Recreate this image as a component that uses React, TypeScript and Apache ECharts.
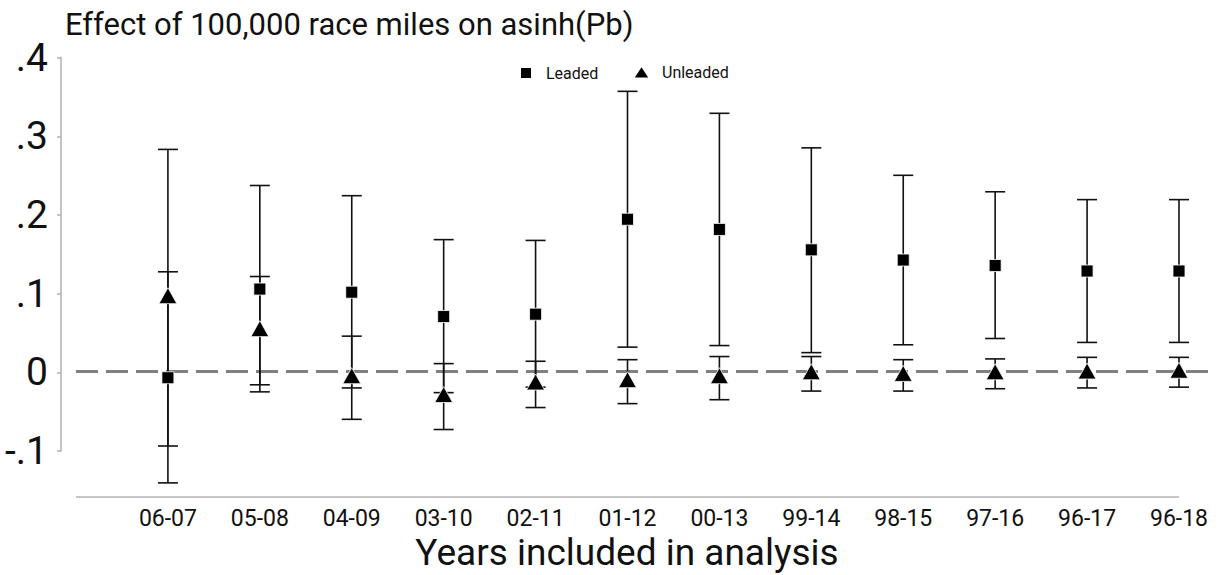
import React, { useEffect, useRef } from 'react';
import * as echarts from 'echarts';

const categories = ['06-07', '05-08', '04-09', '03-10', '02-11', '01-12', '00-13', '99-14', '98-15', '97-16', '96-17', '96-18'];

const leadedEst = [-0.008, 0.105, 0.101, 0.070, 0.073, 0.194, 0.181, 0.155, 0.142, 0.135, 0.128, 0.128];
const leadedLo = [-0.142, -0.026, -0.021, -0.027, -0.020, 0.031, 0.033, 0.024, 0.034, 0.042, 0.037, 0.037];
const leadedHi = [0.127, 0.237, 0.224, 0.168, 0.167, 0.357, 0.329, 0.285, 0.250, 0.229, 0.219, 0.219];

const unleadedEst = [0.094, 0.052, -0.008, -0.032, -0.016, -0.013, -0.008, -0.003, -0.005, -0.003, -0.002, -0.001];
const unleadedLo = [-0.095, -0.017, -0.061, -0.074, -0.046, -0.041, -0.036, -0.025, -0.025, -0.022, -0.021, -0.020];
const unleadedHi = [0.283, 0.121, 0.045, 0.010, 0.013, 0.015, 0.019, 0.019, 0.015, 0.016, 0.018, 0.018];

const yTicks = [-0.1, 0, 0.1, 0.2, 0.3, 0.4];

const FONT = 'Roboto';

export default function App() {
  const ref = useRef<HTMLDivElement>(null);

  useEffect(() => {
    const chart = echarts.init(ref.current!, null, { renderer: 'svg' });

    const errData = (lo: number[], hi: number[]) => categories.map((_, i) => [i + 1, lo[i], hi[i]]);
    const ptData = (est: number[]) => categories.map((_, i) => [i + 1, est[i]]);

    const renderErr = (params: any, api: any) => {
      const x = api.value(0);
      const lo = api.coord([x, api.value(1)]);
      const hi = api.coord([x, api.value(2)]);
      const w = 10;
      const style = { stroke: '#111', lineWidth: 1.6 };
      return {
        type: 'group',
        children: [
          { type: 'line', shape: { x1: lo[0], y1: lo[1], x2: hi[0], y2: hi[1] }, style },
          { type: 'line', shape: { x1: lo[0] - w, y1: lo[1], x2: lo[0] + w, y2: lo[1] }, style },
          { type: 'line', shape: { x1: hi[0] - w, y1: hi[1], x2: hi[0] + w, y2: hi[1] }, style },
        ],
      };
    };

    const option: any = {
      animation: false,
      backgroundColor: '#fff',
      textStyle: { fontFamily: FONT },
      title: {
        text: 'Effect of 100,000 race miles on asinh(Pb)',
        left: 60,
        top: 4,
        textStyle: { fontFamily: FONT, fontSize: 31, fontWeight: 'normal', color: '#111' },
      },
      legend: [
        {
          data: [{ name: 'Leaded', icon: 'rect' }],
          left: 514,
          top: 60,
          itemWidth: 12,
          itemHeight: 12,
          textStyle: { fontFamily: FONT, fontSize: 16, color: '#111', padding: [0, 0, 0, 9] },
        },
        {
          data: [{ name: 'Unleaded', icon: 'triangle' }],
          left: 627,
          top: 59,
          itemWidth: 17,
          itemHeight: 13,
          textStyle: { fontFamily: FONT, fontSize: 16, color: '#111', padding: [0, 0, 0, 7] },
        },
      ],
      grid: [
        { left: 76, top: 57.6, width: 1137, height: 439.4 },
        { left: 61, top: 57.6, width: 1, height: 393.4 },
      ],
      xAxis: [
        {
          gridIndex: 0,
          type: 'value',
          min: 0,
          max: 12.37,
          axisLine: { show: false },
          axisTick: { show: false },
          splitLine: { show: false },
          axisLabel: {
            customValues: categories.map((_, i) => i + 1),
            formatter: (v: number) => categories[Math.round(v) - 1] ?? '',
            fontFamily: FONT,
            fontSize: 23,
            color: '#111',
            margin: 10,
          },
        },
        { gridIndex: 1, type: 'value', show: false, min: 0, max: 1 },
      ],
      yAxis: [
        { gridIndex: 0, type: 'value', min: -0.16, max: 0.4, show: false },
        {
          gridIndex: 1,
          type: 'value',
          min: -0.1,
          max: 0.4,
          interval: 0.1,
          axisLine: { show: true, lineStyle: { color: '#b0b0b0', width: 1.5 } },
          axisTick: { show: true, length: 4, lineStyle: { color: '#b0b0b0', width: 1.5 } },
          splitLine: { show: false },
          axisLabel: {
            customValues: yTicks,
            fontFamily: FONT,
            fontSize: 39,
            color: '#111',
            margin: 13,
            formatter: (v: number) => {
              const r = Math.round(v * 10) / 10;
              if (r === 0) return '0';
              return String(r).replace('0.', '.');
            },
          },
        },
      ],
      graphic: [
        {
          type: 'text',
          x: 627,
          y: 552,
          style: {
            text: 'Years included in analysis',
            fontFamily: FONT,
            fontSize: 37,
            fill: '#111',
            align: 'center',
            verticalAlign: 'middle',
          },
        },
      ],
      series: [
        {
          type: 'line',
          name: 'xaxisline',
          xAxisIndex: 0,
          yAxisIndex: 0,
          data: [[0, -0.16], [12, -0.16]],
          symbol: 'none',
          silent: true,
          clip: false,
          lineStyle: { color: '#b3b3b3', width: 1.5 },
          z: 1,
        },
        {
          type: 'line',
          name: 'zeroline',
          xAxisIndex: 0,
          yAxisIndex: 0,
          data: [[0, 0], [12.37, 0]],
          symbol: 'none',
          silent: true,
          lineStyle: { color: '#808080', width: 3, type: [22, 8] },
          z: 1,
        },
        {
          type: 'custom',
          name: 'Leaded CI',
          xAxisIndex: 0,
          yAxisIndex: 0,
          data: errData(leadedLo, leadedHi),
          renderItem: renderErr,
          silent: true,
          z: 2,
        },
        {
          type: 'custom',
          name: 'Unleaded CI',
          xAxisIndex: 0,
          yAxisIndex: 0,
          data: errData(unleadedLo, unleadedHi),
          renderItem: renderErr,
          silent: true,
          z: 2,
        },
        {
          type: 'scatter',
          name: 'Leaded',
          xAxisIndex: 0,
          yAxisIndex: 0,
          data: ptData(leadedEst),
          symbol: 'rect',
          symbolSize: 12,
          itemStyle: { color: '#000', opacity: 1, borderColor: '#fff', borderWidth: 0.8 },
          z: 3,
        },
        {
          type: 'scatter',
          name: 'Unleaded',
          xAxisIndex: 0,
          yAxisIndex: 0,
          data: ptData(unleadedEst),
          symbol: 'triangle',
          symbolSize: [18, 16],
          symbolOffset: [0, -2],
          itemStyle: { color: '#000', opacity: 1, borderColor: '#fff', borderWidth: 0.8 },
          z: 3,
        },
      ],
    };

    chart.setOption(option);
    return () => chart.dispose();
  }, []);

  return <div ref={ref} style={{ position: 'absolute', left: 0, top: 0, width: 1223, height: 575 }} />;
}
